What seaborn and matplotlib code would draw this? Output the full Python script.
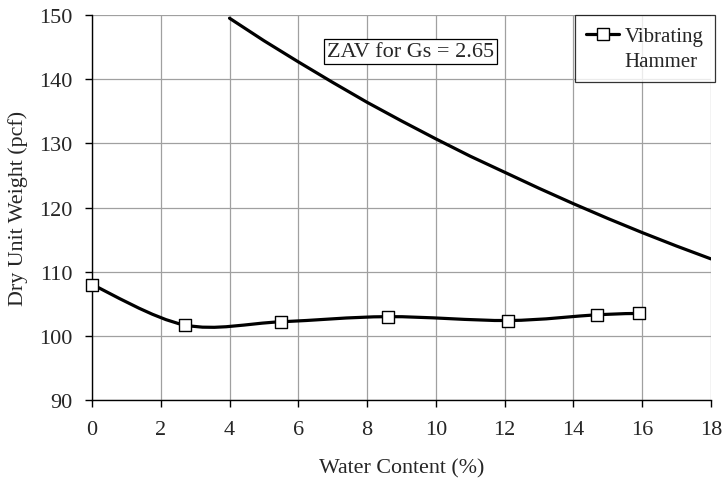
import numpy as np
import seaborn as sns
import matplotlib.pyplot as plt
from matplotlib.path import Path
from matplotlib.patches import PathPatch
from matplotlib.lines import Line2D

# vibrating hammer compaction points
hammer_w = [0.0, 2.7, 5.5, 8.6, 12.1, 14.7, 15.9]
hammer_gd = [108.0, 101.7, 102.2, 103.0, 102.4, 103.3, 103.5]

# zero air voids curve
zav_w = [4, 5, 6, 7, 8, 9, 10, 11, 12, 13, 14, 15, 16, 17, 18]
zav_gd = [149.5, 146.0, 142.7, 139.5, 136.4, 133.5, 130.7, 128.0,
          125.5, 123.0, 120.6, 118.3, 116.1, 114.0, 112.0]

sns.set_theme(style="white")
plt.rcParams['font.family'] = ['Liberation Serif', 'DejaVu Serif']

fig = plt.figure(figsize=(7.24, 4.85), dpi=100)
ax = fig.add_axes([0.127, 0.173, 0.855, 0.794])


def smooth_path(xs, ys):
    # excel-like smoothed line (catmull-rom as cubic beziers)
    pts = np.column_stack([xs, ys])
    ext = np.vstack([pts[0], pts, pts[-1]])
    verts = [tuple(pts[0])]
    codes = [Path.MOVETO]
    for i in range(1, len(ext) - 2):
        p0, p1, p2, p3 = ext[i - 1], ext[i], ext[i + 1], ext[i + 2]
        c1 = p1 + (p2 - p0) / 6
        c2 = p2 - (p3 - p1) / 6
        verts += [tuple(c1), tuple(c2), tuple(p2)]
        codes += [Path.CURVE4] * 3
    return Path(verts, codes)


ax.add_patch(PathPatch(smooth_path(hammer_w, hammer_gd), facecolor='none',
                       edgecolor='black', lw=2.3, zorder=3))
sns.scatterplot(x=hammer_w, y=hammer_gd, marker='s', s=80, color='white',
                edgecolor='black', linewidth=1.0, zorder=4, ax=ax, clip_on=False)
sns.lineplot(x=zav_w, y=zav_gd, color='black', lw=2.3, ax=ax, zorder=3)

ax.set_xlim(0, 18)
ax.set_ylim(90, 150)
ax.set_xticks(range(0, 19, 2))
ax.set_yticks(range(90, 151, 10))
ax.grid(True, color='#a0a0a0', lw=0.9)
ax.set_axisbelow(True)
for s in ['top', 'right']:
    ax.spines[s].set_visible(False)
for s in ['left', 'bottom']:
    ax.spines[s].set_color('black')
    ax.spines[s].set_linewidth(1.0)
ax.tick_params(axis='both', direction='out', length=5, width=1.0,
               color='black', labelsize=16, pad=9, left=True, bottom=True)

ax.set_xlabel('Water Content (%)', fontsize=15.8, labelpad=14)
ax.set_ylabel('Dry Unit Weight (pcf)', fontsize=15.8, labelpad=8)

ax.text(9.26, 144.3, 'ZAV for Gs = 2.65', fontsize=16, ha='center', va='center',
        bbox=dict(boxstyle='square,pad=0.12', facecolor='white',
                  edgecolor='black', lw=0.9), zorder=5)

handle = Line2D([], [], color='black', lw=2.3, marker='s', markersize=9,
                markerfacecolor='white', markeredgecolor='black')
blank = Line2D([], [], lw=0)
leg = ax.legend([handle, blank], ['Vibrating', 'Hammer'], loc='upper right',
                bbox_to_anchor=(1.0065, 1.0), fontsize=15, frameon=True,
                fancybox=False, handlelength=1.6, handletextpad=0.25,
                borderpad=0.55, labelspacing=0.25, borderaxespad=0)
leg.get_frame().set_edgecolor('black')
leg.get_frame().set_linewidth(0.9)
leg.set_zorder(6)

fig.savefig('out.png', dpi=100)
